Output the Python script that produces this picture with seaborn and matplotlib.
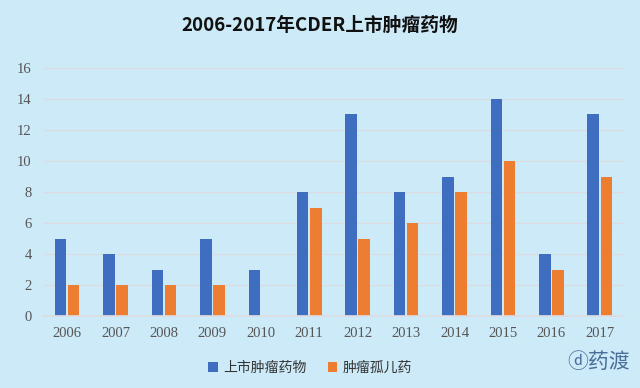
import pandas as pd
import seaborn as sns
import matplotlib.pyplot as plt

# data
years = ['2006', '2007', '2008', '2009', '2010', '2011',
         '2012', '2013', '2014', '2015', '2016', '2017']
oncology = [5, 4, 3, 5, 3, 8, 13, 8, 9, 14, 4, 13]
orphan = [2, 2, 2, 2, 0, 7, 5, 6, 8, 10, 3, 9]
series_names = ['上市肿瘤药物', '肿瘤孤儿药']

df = pd.DataFrame({
    'year': years * 2,
    'count': oncology + orphan,
    'series': [series_names[0]] * len(years) + [series_names[1]] * len(years),
})

bg = '#CDEAF8'
sns.set_theme(style='white')
plt.rcParams['font.family'] = ['Noto Sans CJK SC', 'DejaVu Sans']

fig = plt.figure(figsize=(6.4, 3.88), dpi=100, facecolor=bg)
ax = fig.add_axes([0.067, 0.185, 0.908, 0.64], facecolor=bg)

sns.barplot(data=df, x='year', y='count', hue='series',
            palette=['#3F6DBF', '#ED7D31'], width=0.54, gap=0.12,
            saturation=1, linewidth=0, edgecolor='none', ax=ax, legend=True)

ax.set_ylim(0, 16)
ax.set_yticks(range(0, 17, 2))
ax.yaxis.grid(True, color='#DCDCE0', linewidth=0.8)
ax.set_axisbelow(True)
for s in ax.spines.values():
    s.set_visible(False)
ax.spines['bottom'].set_visible(True)
ax.spines['bottom'].set_color('#DCDCE0')
ax.set_xlabel('')
ax.set_ylabel('')
ax.tick_params(axis='both', length=0, colors='#555555', pad=8)
for lab in ax.get_xticklabels() + ax.get_yticklabels():
    lab.set_family('Liberation Serif')
    lab.set_fontsize(10.5)

fig.text(0.5, 0.935, '2006-2017年CDER上市肿瘤药物', ha='center', va='center',
         fontsize=13.5, fontweight='bold', color='#111111')

leg = ax.legend(loc='upper center', bbox_to_anchor=(0.46, -0.13), ncol=2,
                frameon=False, fontsize=10, handlelength=0.7, handleheight=0.7,
                columnspacing=1.5, handletextpad=0.4)
for t in leg.get_texts():
    t.set_color('#333333')

fig.text(0.985, 0.04, 'ⓓ药渡', ha='right', va='bottom', fontsize=15,
         color='#4A6E9A', family=['Noto Sans CJK SC', 'DejaVu Sans'])

fig.savefig('out.png', dpi=100, facecolor=bg)
